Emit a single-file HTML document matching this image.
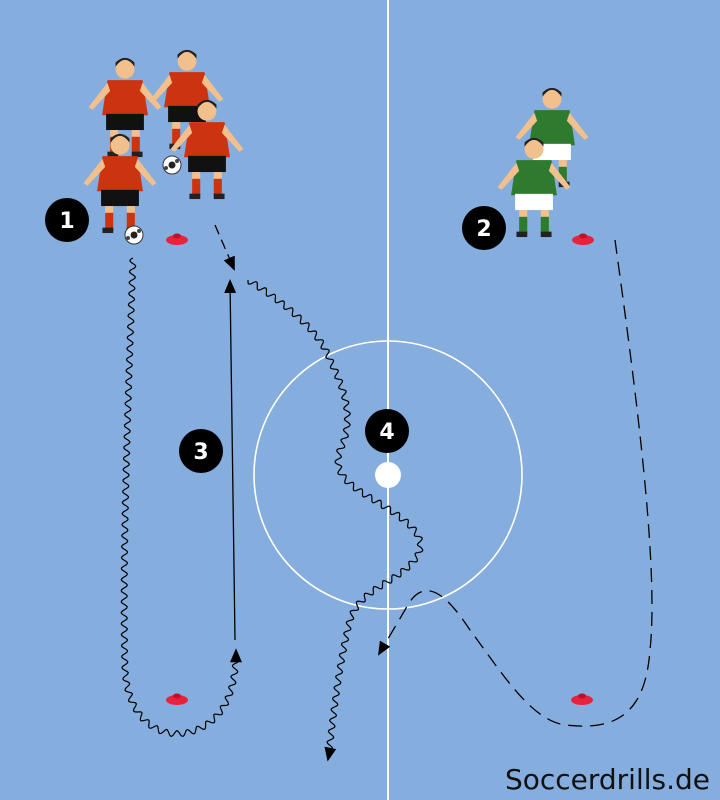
<!DOCTYPE html>
<html><head><meta charset="utf-8"><style>
html,body{margin:0;padding:0;background:#85addd;}
svg{display:block}
text{font-family:"DejaVu Sans","Liberation Sans",sans-serif}
</style></head><body>
<svg id="s" width="720" height="800" viewBox="0 0 720 800" xmlns="http://www.w3.org/2000/svg">
<defs>
<marker id="ah" markerWidth="14" markerHeight="12" refX="12" refY="6" orient="auto" markerUnits="userSpaceOnUse"><path d="M0,0 L14,6 L0,12 z" fill="#000"/></marker>
<g id="red">
  <circle cx="0" cy="-42" r="7" fill="#f2c08c"/><path d="M-7,-44 q7,-10 14,0 v-3 q-7,-7 -14,0z" fill="#222"/>
  <path d="M-13,-34 h26 l4,26 h-34z" fill="#cc3311"/>
  <path d="M-13,-32 l-14,18 l3,2 l13,-14z M13,-32 l14,18 l-3,2 l-13,-14z" fill="#f2c08c"/>
  <rect x="-14" y="-9" width="28" height="12" fill="#111"/>
  <rect x="-11" y="3" width="6" height="6" fill="#f2c08c"/><rect x="5" y="3" width="6" height="6" fill="#f2c08c"/>
  <rect x="-11" y="8" width="6" height="13" fill="#cc3311"/><rect x="5" y="8" width="6" height="13" fill="#cc3311"/>
  <rect x="-13" y="19" width="8" height="4" fill="#222"/><rect x="5" y="19" width="8" height="4" fill="#222"/>
</g>
<g id="green">
  <circle cx="0" cy="-42" r="7" fill="#f2c08c"/><path d="M-7,-44 q7,-10 14,0 v-3 q-7,-7 -14,0z" fill="#222"/>
  <path d="M-13,-34 h26 l4,26 h-34z" fill="#2e7a2e"/>
  <path d="M-13,-32 l-14,18 l3,2 l13,-14z M13,-32 l14,18 l-3,2 l-13,-14z" fill="#f2c08c"/>
  <rect x="-14" y="-9" width="28" height="12" fill="#fff"/>
  <rect x="-11" y="3" width="6" height="6" fill="#f2c08c"/><rect x="5" y="3" width="6" height="6" fill="#f2c08c"/>
  <rect x="-11" y="8" width="6" height="13" fill="#2e7a2e"/><rect x="5" y="8" width="6" height="13" fill="#2e7a2e"/>
  <rect x="-13" y="19" width="8" height="4" fill="#222"/><rect x="5" y="19" width="8" height="4" fill="#222"/>
</g>
<g id="cone"><ellipse cx="0" cy="2" rx="11" ry="5" fill="#e8223a"/><ellipse cx="0" cy="-2" rx="4" ry="2.5" fill="#c0102a"/></g>
<g id="ball"><circle r="9" fill="#fff" stroke="#333" stroke-width="1"/><circle r="3.5" fill="#222"/><circle cx="-6" cy="3" r="2" fill="#444"/><circle cx="5" cy="-4" r="2" fill="#444"/></g>
</defs>
<line x1="388" y1="0" x2="388" y2="800" stroke="#fff" stroke-width="2"/>
<circle cx="388" cy="475" r="134" fill="none" stroke="#fff" stroke-width="1.6"/>
<circle cx="388" cy="475" r="13" fill="#fff"/>

<use href="#red" transform="translate(125,126) scale(1.35)"/>
<use href="#red" transform="translate(187,118) scale(1.35)"/>
<use href="#red" transform="translate(207,168) scale(1.35)"/>
<use href="#red" transform="translate(120,202) scale(1.35)"/>
<use href="#ball" x="172" y="165"/>
<use href="#ball" x="134" y="235"/>
<use href="#cone" x="177" y="238"/>
<use href="#green" transform="translate(552,156) scale(1.35)"/>
<use href="#green" transform="translate(534,206) scale(1.35)"/>
<use href="#cone" x="583" y="238"/>
<use href="#cone" x="177" y="698"/>
<use href="#cone" x="582" y="698"/>

<g fill="#000"><circle cx="67" cy="220" r="22"/><circle cx="484" cy="228" r="22"/><circle cx="201" cy="451" r="22"/><circle cx="387" cy="431" r="22"/></g>
<g fill="#fff" font-size="22" font-weight="bold" text-anchor="middle">
<text x="67" y="228">1</text><text x="484" y="236">2</text><text x="201" y="459">3</text><text x="387" y="439">4</text></g>

<line x1="235" y1="640" x2="230" y2="281" stroke="#000" stroke-width="1.3" marker-end="url(#ah)"/>
<line x1="215" y1="225" x2="234" y2="269" stroke="#000" stroke-width="1.3" stroke-dasharray="10,6" marker-end="url(#ah)"/>
<path d="M615,240 C630,350 660,560 650,650 C645,720 610,730 565,725 C530,720 500,670 470,630 C450,600 425,570 405,610 L379,654" fill="none" stroke="#000" stroke-width="1.3" stroke-dasharray="14,8" marker-end="url(#ah)"/>
<g id="waves" fill="none" stroke="#000" stroke-width="1.2"></g>
<text x="710" y="789" text-anchor="end" font-size="28" fill="#111">Soccerdrills.de</text>
</svg>
<script>
var NS="http://www.w3.org/2000/svg",g=document.getElementById('waves');
function wave(d,endArrow){
 var p=document.createElementNS(NS,'path');p.setAttribute('d',d);g.appendChild(p);
 var L=p.getTotalLength(),out=[],step=1;
 for(var s=0;s<=L;s+=step){var a=p.getPointAtLength(s),b=p.getPointAtLength(Math.min(L,s+0.5)),c=p.getPointAtLength(Math.max(0,s-0.5));
  var dx=b.x-c.x,dy=b.y-c.y,n=Math.hypot(dx,dy)||1,o=3*Math.sin(s/11*2*Math.PI)*(s<L-10?1:0);
  out.push((a.x-dy/n*o).toFixed(1)+','+(a.y+dx/n*o).toFixed(1));}
 g.removeChild(p);var q=document.createElementNS(NS,'path');q.setAttribute('d','M'+out.join(' L'));
 if(endArrow)q.setAttribute('marker-end','url(#ah)');g.appendChild(q);}
wave("M133,258 C128,400 122,560 125,670 C128,720 160,740 190,732 C225,722 236,690 236,650",true);
wave("M248,280 C280,300 320,330 330,360 C345,390 355,420 340,450 C330,480 360,490 390,510 C420,530 430,545 410,565 C390,585 360,590 350,620 C340,660 335,700 328,760",true);
</script>
</body></html>
